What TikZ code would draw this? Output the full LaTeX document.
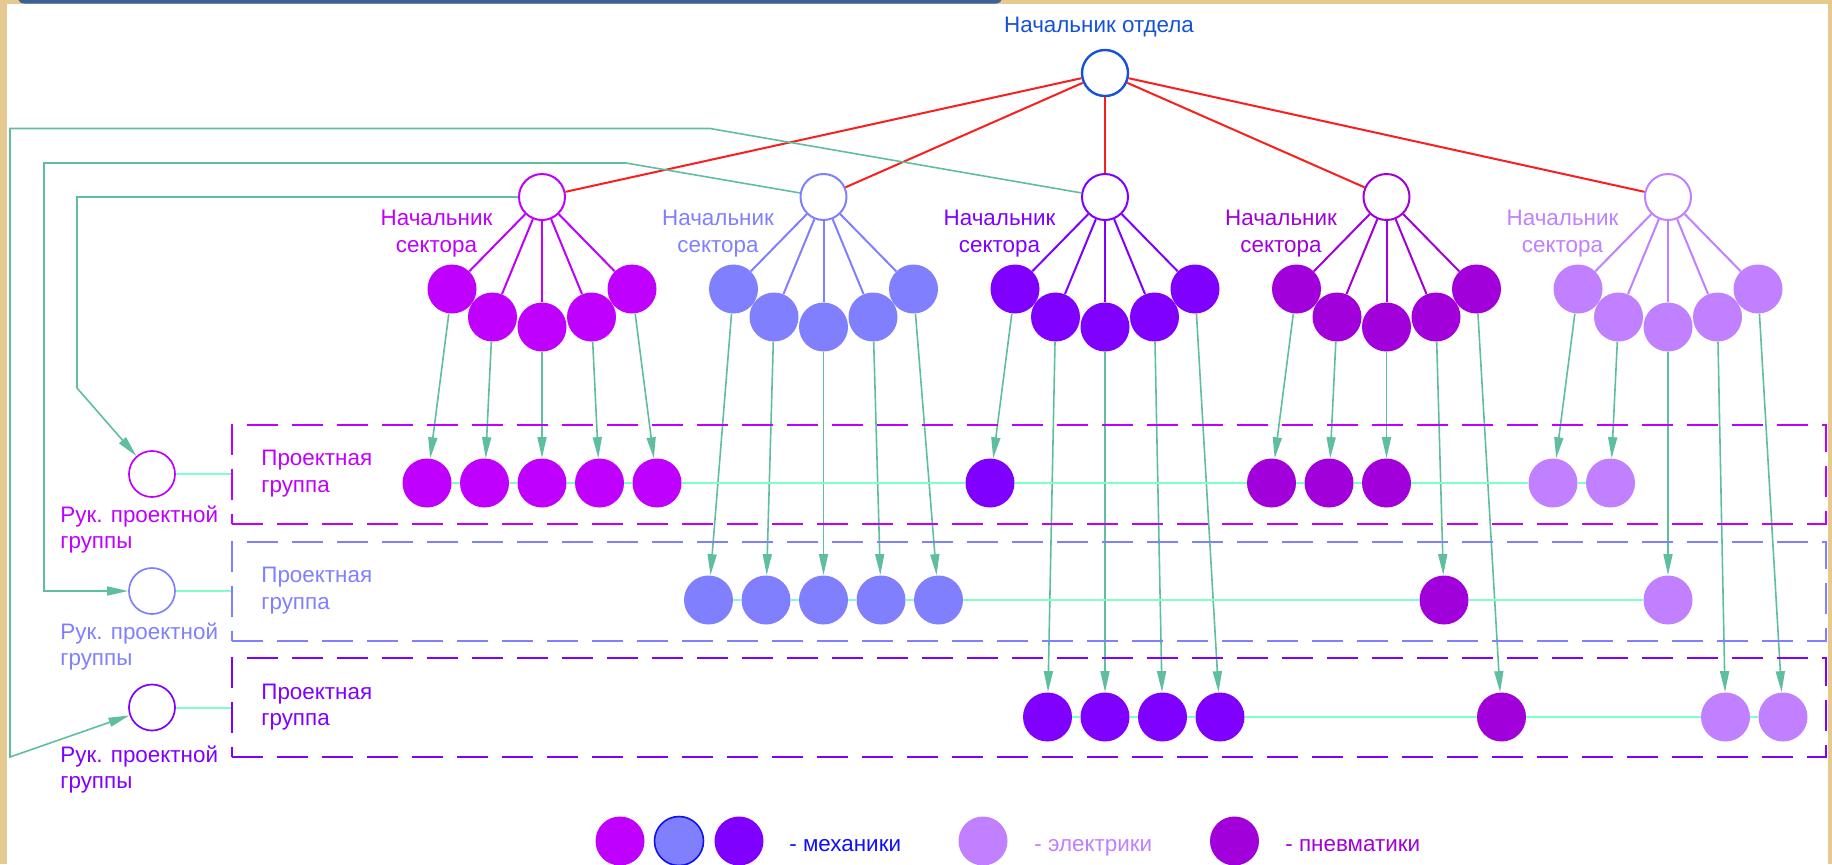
\documentclass[tikz,border=0pt]{standalone}
\usepackage{fontspec}
\setmainfont{Liberation Sans}
\usepackage{tikz}
\usetikzlibrary{arrows.meta, positioning}

\definecolor{secA}{RGB}{192,0,255}
\definecolor{secB}{RGB}{128,128,255}
\definecolor{secC}{RGB}{128,0,255}
\definecolor{secD}{RGB}{162,0,218}
\definecolor{secE}{RGB}{192,128,255}
\definecolor{chief}{RGB}{22,82,214}
\definecolor{bossred}{RGB}{250,30,30}
\definecolor{linkteal}{RGB}{96,190,160}
\definecolor{chainmint}{RGB}{128,255,200}
\definecolor{legblue}{RGB}{16,16,245}
\definecolor{wood}{RGB}{230,201,142}
\definecolor{frameblue}{RGB}{60,96,152}

\tikzset{
    head/.style={circle, draw=#1, fill=white, line width=1pt, minimum size=23pt, inner sep=0pt},
    staff/.style={circle, fill=#1, minimum size=24.5pt, inner sep=0pt},
    lbl/.style={text=#1, inner sep=0pt, font=\fontsize{11.2}{13.15}\selectfont},
    groupbox/.style={draw=#1, line width=1pt, dash pattern=on 15.5pt off 7pt, minimum width=796.75pt, minimum height=49.5pt, inner sep=0pt},
    link/.style={linkteal, line width=0.8pt, -{Triangle[length=10.5pt, width=4.5pt]}},
    chainline/.style={chainmint, line width=1pt}
}

\begin{document}
\begin{tikzpicture}[x=0.5pt, y=-0.5pt]
            \useasboundingbox (0,0) rectangle (1832,864);
            \fill[white] (0,0) rectangle (1832,864);
            \fill[wood] (0,0) rectangle (7,864);
            \fill[wood] (0,0) rectangle (1832,4);
            \fill[wood] (1828,0) rectangle (1832,864);
            \fill[frameblue, rounded corners=3pt] (18,-30) rectangle (1002,3.5);

            \node[head=chief, line width=1.2pt] (dept) at (1105,73) {};
            \node[lbl=chief, anchor=north] (deptl) at (1099,16.5) {Начальник отдела};

            \foreach \s/\col/\rows in {1/secA/{1,1,1,1,1}, 2/secB/{2,2,2,2,2}, 3/secC/{1,3,3,3,3},
                                       4/secD/{1,1,1,2,3}, 5/secE/{1,1,2,3,3}}{
                \pgfmathsetmacro{\hx}{542+(\s-1)*281.5}
                \node[head=\col] (s\s) at (\hx,197) {};
                \node[lbl=\col, align=center, anchor=north] (sl\s) at ({\hx-105.5},210) {Начальник\\сектора};
                \draw[bossred, line width=1pt] (dept) -- (s\s);
                \foreach \gr [count=\kk] in \rows {
                    \pgfmathsetmacro{\dx}{{-90,-49.5,0,49.5,90}[\kk-1]}
                    \pgfmathsetmacro{\dy}{{92,120,130,120,92}[\kk-1]}
                    \node[staff=\col] (m\s\kk) at ({\hx+(\dx)},{197+(\dy)}) {};
                    \node[staff=\col] (t\s\kk) at ({\hx+57.5*\kk-172.5},{366+117*\gr}) {};
                    \draw[\col, line width=1pt] (s\s) -- (m\s\kk);
                    \draw[link] (m\s\kk) -- (t\s\kk);
                }
            }

            \draw[chainline] (t11) -- (t12) -- (t13) -- (t14) -- (t15) -- (t31) -- (t41) -- (t42) -- (t43) -- (t51) -- (t52);
            \draw[chainline] (t21) -- (t22) -- (t23) -- (t24) -- (t25) -- (t44) -- (t53);
            \draw[chainline] (t32) -- (t33) -- (t34) -- (t35) -- (t45) -- (t54) -- (t55);

            \foreach \gr/\col/\gy/\ty in {1/secA/474/505, 2/secB/591/622, 3/secC/707.5/745}{
                \node[groupbox=\col] (g\gr) at (1028.75,\gy) {};
                \node[head=\col, line width=0.85pt] (l\gr) at (152,\gy) {};
                \node[lbl=\col, align=left, anchor=north west] (gl\gr) at (261,{\gy-24}) {Проектная\\группа};
                \node[lbl=\col, align=left, anchor=north west] (ll\gr) at (60,\ty) {Рук. проектной\\группы};
                \draw[chainline] (l\gr) -- (l\gr -| g\gr.west);
            }

            \draw[link] (s1) -- (77,197) -- (77,388) -- (l1);
            \draw[link] (s2) -- (626,163) -- (44,163) -- (44,591) -- (l2);
            \draw[link] (s3) -- (710,128.5) -- (10,128.5) -- (10,757) -- (l3);

            \node[staff=secA] (k1) at (620,841) {};
            \node[staff=secB, draw=legblue, line width=0.8pt] (k2) at (679,841) {};
            \node[staff=secC] (k3) at (739,841) {};
            \node[lbl=legblue, anchor=base west] (kt1) at (789,851.5) {- механики};
            \node[staff=secE] (k4) at (983,841) {};
            \node[lbl=secE, anchor=base west] (kt2) at (1034,851.5) {- электрики};
            \node[staff=secD] (k5) at (1234.5,841) {};
            \node[lbl=secD, anchor=base west] (kt3) at (1285,851.5) {- пневматики};
\end{tikzpicture}
\end{document}
